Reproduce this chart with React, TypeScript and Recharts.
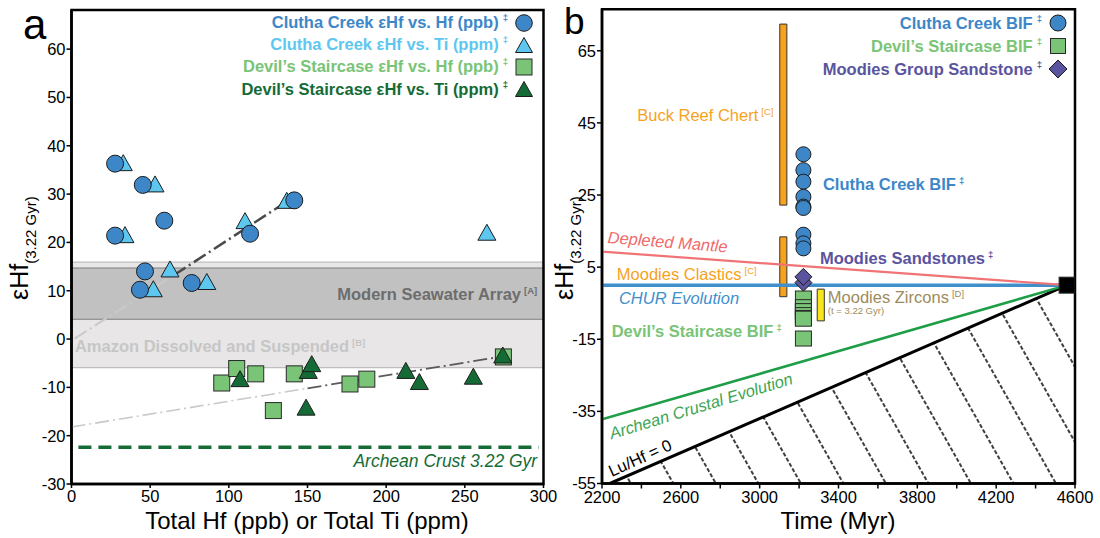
import React from "react";
import {
  ComposedChart,
  Scatter,
  Line,
  Area,
  XAxis,
  YAxis,
  ReferenceArea,
  ReferenceLine,
  ReferenceDot,
  Legend,
} from "recharts";

document.body.style.margin = "0";

const FONT = "'Liberation Sans', Arial, Helvetica, sans-serif";

// ---- panel a: εHf vs. Hf / Ti ----
const cluthaHfX = [27.7, 45.3, 59.0, 27.7, 113.5, 141.6, 46.7, 43.5, 76.4];
const cluthaHfY = [36.3, 31.9, 24.5, 21.4, 21.8, 28.7, 14.0, 10.2, 11.6];
const cluthaTiX = [32.9, 53.1, 34.0, 110.3, 136.8, 264.0, 62.6, 52.0, 86.0];
const cluthaTiY = [36.3, 31.9, 21.4, 24.3, 28.5, 21.9, 14.3, 10.2, 11.7];
const devilsHfX = [95.5, 105.0, 117.1, 128.3, 141.6, 177.0, 187.7, 274.5];
const devilsHfY = [-9.1, -6.1, -7.2, -14.8, -7.2, -9.3, -8.3, -3.7];
const devilsTiX = [107.1, 150.5, 152.7, 149.1, 212.5, 221.1, 255.4, 274.1];
const devilsTiY = [-8.4, -6.7, -5.3, -14.3, -6.7, -9.0, -7.9, -3.5];

// trend lines (light part first, dark part second)
const cluthaTrendX = [2, 65, 137];
const cluthaTrendY = [0.1, 13.2, 28.5];
const devilsTrendX = [0, 150, 274];
const devilsTrendY = [-18.2, -10.2, -3.6];

const seawaterBand = [4.1, 14.7];
const amazonBand = [-5.9, 15.9];
const archeanCrust = -22.4;
const archeanCrustSpan = [4.4, 297];

const aXTicks = [0, 50, 100, 150, 200, 250, 300];
const aYTicks = [-30, -20, -10, 0, 10, 20, 30, 40, 50, 60];

// ---- panel b: εHf vs. time ----
const sampleAge = 3222;
const chertAge = 3120;
const zirconAge = 3310;
const presentAge = 4560;
const buckReefRange = [22.2, 72.4];
const moodiesClasticsRange = [-3.2, 13.4];
const moodiesZirconsRange = [-9.9, -1.1];
const moodiesSandstone = [0.7, 2.3];

const evoTime = [2200, 2240, 4560, 4600];
const depletedMantle = [9.3, null, 0, null];
const churEvolution = [0, null, 0, null];
const crustalEvolution = [-37.2, null, 0, null];
const luHfZero = [null, -55, 0, null];
const luHfField = [null, -55, 0, 0];

const bXTicks = [2200, 2400, 2600, 2800, 3000, 3200, 3400, 3600, 3800, 4000, 4200, 4400, 4600];
const bYTicks = [-55, -35, -15, 5, 25, 45, 65];

const C_HF = "#3d87c9";
const C_TI = "#5ec7f0";
const D_HF = "#79c476";
const D_TI = "#156b35";
const PURPLE = "#5a549f";
const ORANGE = "#f7a21b";

const zip = (xs: number[], ys: number[]) => xs.map((x, i) => ({ x, y: ys[i] }));

const evoRows = evoTime.map((t, i) => ({
  t,
  dm: depletedMantle[i],
  chur: churEvolution[i],
  crust: crustalEvolution[i],
  lu: luHfZero[i],
  field: luHfField[i],
}));

const circle = (r: number, fill: string) => (p: any) => (
  <circle cx={p.cx} cy={p.cy} r={r} fill={fill} stroke="#1c1c1c" strokeWidth={1} />
);
const triangle = (w: number, h: number, fill: string) => (p: any) => (
  <polygon
    points={`${p.cx},${p.cy - h / 2 - 1} ${p.cx - w / 2},${p.cy + h / 2 - 1} ${p.cx + w / 2},${p.cy + h / 2 - 1}`}
    fill={fill}
    stroke="#1c1c1c"
    strokeWidth={1}
  />
);
const square = (w: number, h: number, fill: string) => (p: any) => (
  <rect x={p.cx - w / 2} y={p.cy - h / 2} width={w} height={h} fill={fill} stroke="#2a2a2a" strokeWidth={1} />
);
const diamond = (s: number, fill: string) => (p: any) => (
  <polygon
    points={`${p.cx},${p.cy - s} ${p.cx + s},${p.cy} ${p.cx},${p.cy + s} ${p.cx - s},${p.cy}`}
    fill={fill}
    stroke="#1c1c1c"
    strokeWidth={1}
  />
);

type NoteOpts = {
  color: string;
  size?: number;
  weight?: number;
  italic?: boolean;
  anchor?: "start" | "middle" | "end";
  angle?: number;
  sup?: string;
  supSize?: number;
};

// text anchored at a data point
const note = (key: string, x: number, y: number, text: string, o: NoteOpts) => (
  <ReferenceDot
    key={key}
    x={x}
    y={y}
    r={0}
    fill="none"
    stroke="none"
    label={(p: any) => {
      const vb = p.viewBox || {};
      const cx = (vb.x ?? 0) + (vb.width ?? 0) / 2;
      const cy = (vb.y ?? 0) + (vb.height ?? 0) / 2;
      return (
        <text
          x={cx}
          y={cy}
          dy="0.35em"
          textAnchor={o.anchor ?? "start"}
          transform={o.angle ? `rotate(${o.angle} ${cx} ${cy})` : undefined}
          fill={o.color}
          fontSize={o.size ?? 16.5}
          fontWeight={o.weight ?? 400}
          fontStyle={o.italic ? "italic" : "normal"}
          fontFamily={FONT}
        >
          {text}
          {o.sup && (
            <tspan fontSize={o.supSize ?? 9.5} dx={3} dy={-6}>
              {o.sup}
            </tspan>
          )}
        </text>
      );
    }}
  />
);

type LegendItem = { label: string; color: string; marker: React.ReactNode };

const legendBlock = (items: LegendItem[], rowH: number) => () => (
  <div style={{ fontFamily: FONT }}>
    {items.map((it) => (
      <div
        key={it.label}
        style={{ display: "flex", justifyContent: "flex-end", alignItems: "center", height: rowH }}
      >
        <span style={{ color: it.color, fontWeight: 700, fontSize: 16.5, whiteSpace: "nowrap" }}>{it.label}</span>
        <span style={{ color: it.color, fontWeight: 700, fontSize: 9.5, position: "relative", top: -5, marginLeft: 4 }}>
          ‡
        </span>
        <svg width={20} height={20} style={{ marginLeft: 6 }}>
          {it.marker}
        </svg>
      </div>
    ))}
  </div>
);

const tickStyle = { fontSize: 16.5, fill: "#000", fontFamily: FONT };

function PanelA() {
  const light = "#c9c9c9";
  return (
    <ComposedChart
      width={560}
      height={538}
      margin={{ top: 10, right: 16.5, bottom: 0, left: 0 }}
      style={{ position: "absolute", left: 0, top: 0 }}
    >
      <XAxis
        type="number"
        dataKey="x"
        domain={[0, 300]}
        ticks={aXTicks}
        allowDataOverflow
        height={54}
        tick={tickStyle}
        tickSize={4}
        tickMargin={2}
        axisLine={{ stroke: "#000", strokeWidth: 2.5 }}
        tickLine={{ stroke: "#000", strokeWidth: 1.5 }}
        label={{
          content: () => (
            <text x={307} y={529} textAnchor="middle" fontSize={24} fontFamily={FONT} fill="#000">
              Total Hf (ppb) or Total Ti (ppm)
            </text>
          ),
        }}
      />
      <YAxis
        type="number"
        dataKey="y"
        domain={[-30, 68.1]}
        ticks={aYTicks}
        allowDataOverflow
        width={71.5}
        tick={tickStyle}
        tickSize={5}
        tickMargin={1}
        axisLine={{ stroke: "#000", strokeWidth: 2.5 }}
        tickLine={{ stroke: "#000", strokeWidth: 1.5 }}
        label={{
          content: () => (
            <text
              x={28}
              y={300}
              transform="rotate(-90 28 300)"
              fontSize={25}
              fontFamily={FONT}
              fill="#000"
            >
              εHf
              <tspan fontSize={15} dy={8}>
                (3.22 Gyr)
              </tspan>
            </text>
          ),
        }}
      />

      <ReferenceArea y1={amazonBand[0]} y2={amazonBand[1]} fill="#e8e6e6" fillOpacity={1} stroke="#bdbdbd" strokeWidth={1.2} />
      <ReferenceArea y1={seawaterBand[0]} y2={seawaterBand[1]} fill="#c1c1c1" fillOpacity={1} stroke="#7f7f7f" strokeWidth={1.2} />
      {note("sw", 296, 9.2, "Modern Seawater Array", { color: "#6d6d6d", weight: 700, anchor: "end", sup: "[A]" })}
      {note("amz", 2.2, -1.5, "Amazon Dissolved and Suspended", { color: "#c6c6c6", weight: 700, sup: "[B]" })}

      <ReferenceLine
        segment={[
          { x: archeanCrustSpan[0], y: archeanCrust },
          { x: archeanCrustSpan[1], y: archeanCrust },
        ]}
        stroke={D_TI}
        strokeWidth={3.5}
        strokeDasharray="13 7"
      />
      {note("ac", 296, -25.2, "Archean Crust 3.22 Gyr", { color: D_TI, italic: true, anchor: "end", size: 17.5 })}

      <Line data={zip(cluthaTrendX.slice(0, 2), cluthaTrendY.slice(0, 2))} dataKey="y" stroke={light} strokeWidth={2} strokeDasharray="14 4 2 4" dot={false} isAnimationActive={false} />
      <Line data={zip(cluthaTrendX.slice(1), cluthaTrendY.slice(1))} dataKey="y" stroke="#4b4b4b" strokeWidth={2.5} strokeDasharray="14 4 2 4" dot={false} isAnimationActive={false} />
      <Line data={zip(devilsTrendX.slice(0, 2), devilsTrendY.slice(0, 2))} dataKey="y" stroke={light} strokeWidth={1.6} strokeDasharray="14 4 2 4" dot={false} isAnimationActive={false} />
      <Line data={zip(devilsTrendX.slice(1), devilsTrendY.slice(1))} dataKey="y" stroke="#5a5a5a" strokeWidth={1.8} strokeDasharray="14 4 2 4" dot={false} isAnimationActive={false} />

      <Scatter data={zip(cluthaTiX, cluthaTiY)} shape={triangle(18, 16, C_TI)} isAnimationActive={false} />
      <Scatter data={zip(cluthaHfX, cluthaHfY)} shape={circle(8.5, C_HF)} isAnimationActive={false} />
      <Scatter data={zip(devilsHfX, devilsHfY)} shape={square(16, 16, D_HF)} isAnimationActive={false} />
      <Scatter data={zip(devilsTiX, devilsTiY)} shape={triangle(18, 16, D_TI)} isAnimationActive={false} />

      <ReferenceArea x1={0} x2={300} y1={-30} y2={68.1} fill="none" stroke="#000" strokeWidth={2.5} />

      <Legend
        layout="vertical"
        align="center"
        verticalAlign="middle"
        wrapperStyle={{ left: 150, top: 11.5, width: 384 }}
        content={legendBlock(
          [
            { label: "Clutha Creek εHf vs. Hf (ppb)", color: C_HF, marker: circle(8.3, C_HF)({ cx: 10, cy: 10 }) },
            { label: "Clutha Creek εHf vs. Ti (ppm)", color: C_TI, marker: triangle(17, 15, C_TI)({ cx: 10, cy: 11 }) },
            { label: "Devil’s Staircase εHf vs. Hf (ppb)", color: D_HF, marker: square(16, 16, D_HF)({ cx: 10, cy: 10 }) },
            { label: "Devil’s Staircase εHf vs. Ti (ppm)", color: D_TI, marker: triangle(17, 15, D_TI)({ cx: 10, cy: 11 }) },
          ],
          22.2
        )}
      />
    </ComposedChart>
  );
}

function PanelB() {
  const half = 18; // bar half-width in Myr
  const cluthaB = [...cluthaHfY].sort((a, b) => b - a).map((v) => ({ t: sampleAge, v }));
  const devilsB = [...devilsHfY].sort((a, b) => b - a).map((v) => ({ t: sampleAge, v }));
  const sandB = moodiesSandstone.map((v) => ({ t: sampleAge, v }));
  return (
    <ComposedChart
      width={552}
      height={538}
      data={evoRows}
      margin={{ top: 9.3, right: 25, bottom: 0, left: 0 }}
      style={{ position: "absolute", left: 548, top: 0 }}
    >
      <defs>
        <pattern id="hatchB" patternUnits="userSpaceOnUse" width={12} height={37} patternTransform="rotate(60.5)">
          <line x1={0} y1={18} x2={12} y2={18} stroke="#000" strokeWidth={1.3} strokeDasharray="4 2" />
        </pattern>
      </defs>
      <XAxis
        type="number"
        dataKey="t"
        domain={[2200, 4600]}
        ticks={bXTicks}
        allowDataOverflow
        height={54.5}
        tick={tickStyle}
        tickSize={5}
        tickMargin={2.5}
        tickFormatter={(v: number) => ((v - 2200) % 400 === 0 ? String(v) : "")}
        axisLine={{ stroke: "#000", strokeWidth: 2.5 }}
        tickLine={{ stroke: "#000", strokeWidth: 1.5 }}
        label={{
          content: () => (
            <text x={290} y={529} textAnchor="middle" fontSize={24} fontFamily={FONT} fill="#000">
              Time (Myr)
            </text>
          ),
        }}
      />
      <YAxis
        type="number"
        dataKey="v"
        domain={[-55, 76.5]}
        ticks={bYTicks}
        allowDataOverflow
        width={54}
        tick={tickStyle}
        tickSize={5}
        tickMargin={1}
        axisLine={{ stroke: "#000", strokeWidth: 2.5 }}
        tickLine={{ stroke: "#000", strokeWidth: 1.5 }}
        label={{
          content: () => (
            <text x={25} y={300} transform="rotate(-90 25 300)" fontSize={25} fontFamily={FONT} fill="#000">
              εHf
              <tspan fontSize={15} dy={8}>
                (3.22 Gyr)
              </tspan>
            </text>
          ),
        }}
      />

      <Area dataKey="field" baseValue={-55} fill="url(#hatchB)" fillOpacity={1} stroke="none" connectNulls isAnimationActive={false} />
      <Line dataKey="lu" stroke="#000" strokeWidth={3} dot={false} connectNulls isAnimationActive={false} />
      <Line dataKey="crust" stroke="#1f9e48" strokeWidth={2.5} dot={false} connectNulls isAnimationActive={false} />
      <Line dataKey="chur" stroke="#3f8fcb" strokeWidth={3.5} dot={false} connectNulls isAnimationActive={false} />
      <Line dataKey="dm" stroke="#f07475" strokeWidth={2.2} dot={false} connectNulls isAnimationActive={false} />

      <ReferenceArea x1={chertAge - half} x2={chertAge + half} y1={buckReefRange[0]} y2={buckReefRange[1]} fill={ORANGE} fillOpacity={1} stroke="#333" strokeWidth={1} />
      <ReferenceArea x1={chertAge - half} x2={chertAge + half} y1={moodiesClasticsRange[0]} y2={moodiesClasticsRange[1]} fill={ORANGE} fillOpacity={1} stroke="#333" strokeWidth={1} />
      <ReferenceArea x1={zirconAge - half} x2={zirconAge + half} y1={moodiesZirconsRange[0]} y2={moodiesZirconsRange[1]} fill="#f9e51c" fillOpacity={1} stroke="#333" strokeWidth={1} />

      <Scatter data={cluthaB} shape={circle(7.5, C_HF)} isAnimationActive={false} />
      <Scatter data={devilsB} shape={square(16, 15, D_HF)} isAnimationActive={false} />
      <Scatter data={sandB} shape={diamond(8.5, PURPLE)} isAnimationActive={false} />
      <Scatter data={[{ t: presentAge, v: 0 }]} shape={square(16, 16, "#000")} isAnimationActive={false} />

      {note("brc", 3070, 47.2, "Buck Reef Chert", { color: ORANGE, anchor: "end", sup: "[C]" })}
      {note("ccb", 3321, 28.0, "Clutha Creek BIF", { color: C_HF, weight: 700, sup: "‡" })}
      {note("dm", 2533, 12.0, "Depleted Mantle", { color: "#f06a6b", italic: true, anchor: "middle", angle: 4.5 })}
      {note("ms", 3306, 7.4, "Moodies Sandstones", { color: PURPLE, weight: 700, sup: "‡" })}
      {note("mc", 2275, 3.1, "Moodies Clastics", { color: ORANGE, sup: "[C]" })}
      {note("chur", 2286, -3.7, "CHUR Evolution", { color: "#3f8fcb", italic: true })}
      {note("mz", 3346, -3.4, "Moodies Zircons", { color: "#9d8b5b", sup: "[D]" })}
      {note("mzt", 3346, -7.0, "(t = 3.22 Gyr)", { color: "#9d8b5b", size: 9.5 })}
      {note("dsb", 2249, -12.9, "Devil’s Staircase BIF", { color: D_HF, weight: 700, sup: "‡" })}
      {note("ace", 2702, -33.5, "Archean Crustal Evolution", { color: "#3ea552", italic: true, anchor: "middle", angle: -17 })}
      {note("lu", 2393, -47.9, "Lu/Hf = 0", { color: "#000", anchor: "middle", angle: -24.5 })}

      <ReferenceArea x1={2200} x2={4600} y1={-55} y2={76.5} fill="none" stroke="#000" strokeWidth={2.5} />

      <Legend
        layout="vertical"
        align="center"
        verticalAlign="middle"
        wrapperStyle={{ left: 200, top: 11.9, width: 320 }}
        content={legendBlock(
          [
            { label: "Clutha Creek BIF", color: C_HF, marker: circle(8, C_HF)({ cx: 10, cy: 10 }) },
            { label: "Devil’s Staircase BIF", color: D_HF, marker: square(15, 15, D_HF)({ cx: 10, cy: 10 }) },
            { label: "Moodies Group Sandstone", color: PURPLE, marker: diamond(9, PURPLE)({ cx: 10, cy: 10 }) },
          ],
          22.9
        )}
      />
    </ComposedChart>
  );
}

export default function App() {
  return (
    <div style={{ position: "relative", width: 1100, height: 538, background: "#fff", fontFamily: FONT }}>
      <PanelA />
      <PanelB />
      <svg width={1100} height={60} style={{ position: "absolute", left: 0, top: 0, pointerEvents: "none" }}>
        <text x={23} y={38.5} fontSize={42} fontFamily={FONT} fill="#000">
          a
        </text>
        <text x={564} y={33.5} fontSize={37} fontFamily={FONT} fill="#000">
          b
        </text>
      </svg>
    </div>
  );
}
